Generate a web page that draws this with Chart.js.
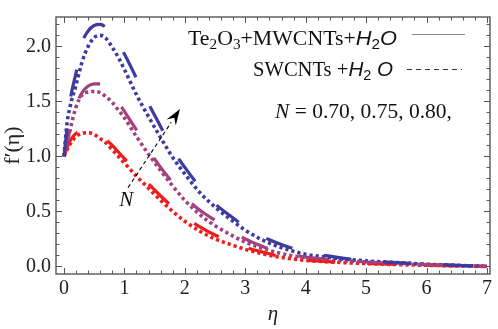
<!DOCTYPE html>
<html>
<head>
<meta charset="utf-8">
<script src="https://cdn.jsdelivr.net/npm/chart.js@4/dist/chart.umd.min.js"></script>
<style>
html,body{margin:0;padding:0;background:#fff;}
#c{display:block;}
</style>
</head>
<body>
<canvas id="c" width="498" height="329" style="width:498px;height:329px"></canvas>
<script>
// ---- data ----
const eta = [0,0.05,0.1,0.2,0.3,0.4,0.5,0.6,0.7,0.8,0.9,1.0,1.2,1.4,1.6,1.8,2.0,2.25,2.5,2.75,3.0,3.25,3.5,3.75,4.0,4.5,5.0,5.5,6.0,6.5,7.0];
// Te2O3+MWCNTs+H2O (dashed)
const mw080 = [1.0,1.25,1.5,1.76,2.03,2.14,2.19,2.2,2.17,2.11,2.03,1.93,1.71,1.48,1.27,1.06,0.9,0.72,0.57,0.46,0.36,0.28,0.22,0.17,0.13,0.085,0.05,0.035,0.02,0.01,0.0];
const mw075 = [1.0,1.13,1.24,1.46,1.58,1.64,1.66,1.66,1.62,1.56,1.49,1.41,1.24,1.06,0.9,0.76,0.63,0.51,0.42,0.33,0.25,0.19,0.14,0.11,0.085,0.06,0.04,0.028,0.016,0.008,0.0];
const mw070 = [1.0,1.08,1.14,1.21,1.225,1.22,1.2,1.18,1.15,1.1,1.04,0.98,0.86,0.75,0.64,0.54,0.45,0.36,0.285,0.225,0.175,0.135,0.1,0.075,0.058,0.04,0.028,0.018,0.011,0.005,0.0];
// SWCNTs+H2O (dotted)
const sw080 = [1.0,1.3,1.45,1.65,1.86,2.0,2.08,2.1,2.07,1.99,1.9,1.79,1.56,1.36,1.17,0.99,0.84,0.67,0.54,0.43,0.33,0.25,0.19,0.145,0.11,0.075,0.05,0.035,0.02,0.01,0.0];
const sw075 = [1.0,1.12,1.24,1.45,1.56,1.585,1.59,1.58,1.54,1.49,1.42,1.35,1.18,1.02,0.87,0.73,0.6,0.47,0.37,0.29,0.22,0.17,0.13,0.1,0.08,0.055,0.04,0.028,0.016,0.008,0.0];
const sw070 = [1.0,1.06,1.11,1.18,1.21,1.215,1.2,1.16,1.12,1.06,1.0,0.94,0.82,0.71,0.6,0.5,0.41,0.32,0.25,0.2,0.155,0.12,0.09,0.07,0.055,0.038,0.026,0.017,0.01,0.005,0.0];
const xTicks = [0,1,2,3,4,5,6,7];
const yTicks = [0,0.5,1.0,1.5,2.0];
const nValues = ['0.70','0.75','0.80'];

const RED = '#f01c1c', PUR = '#a3417e', BLU = '#3d3b9f';
const pts = arr => arr.map((v,i)=>({x:eta[i], y:v}));
const SERIF = '"Liberation Serif", "Times New Roman", serif';
const SANS = '"Liberation Sans", Arial, sans-serif';

function dashed(data,color){return {data:pts(data),borderColor:color,borderWidth:3.2,borderDash:[28,32],borderCapStyle:'butt',pointRadius:0,cubicInterpolationMode:'monotone',fill:false};}
function dotted(data,color){return {data:pts(data),borderColor:color,borderWidth:3.6,borderDash:[3.2,3],borderCapStyle:'butt',pointRadius:0,cubicInterpolationMode:'monotone',fill:false};}

// draw mixed-font text fitted horizontally between x0 and x1
function drawRich(ctx, parts, x0, x1, y){
  let w=0;
  parts.forEach(p=>{ctx.font=p[1]; w+=ctx.measureText(p[0]).width;});
  const s=(x1-x0)/w;
  ctx.save();
  ctx.translate(x0,y); ctx.scale(s,1);
  let cx=0;
  parts.forEach(p=>{ctx.font=p[1]; ctx.fillText(p[0], cx, (p[2]||0)); cx+=ctx.measureText(p[0]).width;});
  ctx.restore();
}

const framePlugin = {
  id:'frame',
  beforeDatasetsDraw(chart){
    const {ctx, chartArea:a, scales:{x,y}} = chart;
    ctx.save();
    ctx.strokeStyle='#555'; ctx.lineWidth=1.4;
    ctx.strokeRect(a.left, a.top, a.right-a.left, a.bottom-a.top);
    ctx.lineWidth=1;
    ctx.beginPath();
    for(let i=0;i<=35;i++){
      const v=i*0.2; if(v<x.min||v>x.max) continue;
      const px=Math.round(x.getPixelForValue(v))+0.5;
      const L = (i%5===0)?6:3.5;
      ctx.moveTo(px,a.bottom); ctx.lineTo(px,a.bottom-L);
      ctx.moveTo(px,a.top); ctx.lineTo(px,a.top+L);
    }
    for(let i=0;i<=23;i++){
      const v=i*0.1; if(v<y.min||v>y.max) continue;
      const py=Math.round(y.getPixelForValue(v))+0.5;
      const L = (i%5===0)?6:3.5;
      ctx.moveTo(a.left,py); ctx.lineTo(a.left+L,py);
      ctx.moveTo(a.right,py); ctx.lineTo(a.right-L,py);
    }
    ctx.stroke();
    ctx.restore();
  },
  afterDraw(chart){
    const {ctx, scales:{x,y}} = chart;
    ctx.save();
    ctx.fillStyle='#111';
    ctx.textBaseline='alphabetic';
    // legend
    drawRich(ctx, [['Te','20px '+SERIF],['2','14px '+SERIF,4],['O','20px '+SERIF],['3','14px '+SERIF,4],['+MWCNTs+','20px '+SERIF],['H','italic 20px '+SANS],['2','14px '+SANS,4],['O','italic 20px '+SANS]], 188, 397, 45);
    drawRich(ctx, [['SWCNTs +','20px '+SERIF],['H','italic 20px '+SANS],['2','14px '+SANS,4],[' O','italic 20px '+SANS]], 253, 393, 76);
    ctx.strokeStyle='#888'; ctx.lineWidth=1;
    ctx.beginPath(); ctx.moveTo(412,34.5); ctx.lineTo(465,34.5); ctx.stroke();
    ctx.strokeStyle='#333'; ctx.setLineDash([5,4]);
    ctx.beginPath(); ctx.moveTo(407,69.5); ctx.lineTo(462,69.5); ctx.stroke();
    ctx.setLineDash([]);
    drawRich(ctx, [['N','italic 20px '+SERIF],[' = '+nValues.join(', ')+',','20px '+SERIF]], 275, 452, 118);
    // arrow
    const x0=x.getPixelForValue(1.06), y0=y.getPixelForValue(0.716);
    const x1=x.getPixelForValue(1.92), y1=y.getPixelForValue(1.43);
    const ang=Math.atan2(y1-y0,x1-x0);
    const hl=16, hw=5.5;
    const bx=x1-hl*Math.cos(ang), by=y1-hl*Math.sin(ang);
    ctx.strokeStyle='#000'; ctx.lineWidth=1.1; ctx.setLineDash([4,3]);
    ctx.beginPath(); ctx.moveTo(x0,y0); ctx.lineTo(bx,by); ctx.stroke();
    ctx.setLineDash([]);
    ctx.fillStyle='#000';
    ctx.beginPath();
    ctx.moveTo(x1,y1);
    ctx.lineTo(bx+hw*Math.sin(ang), by-hw*Math.cos(ang));
    ctx.lineTo(bx+0.35*hl*Math.cos(ang), by+0.35*hl*Math.sin(ang));
    ctx.lineTo(bx-hw*Math.sin(ang), by+hw*Math.cos(ang));
    ctx.closePath(); ctx.fill();
    ctx.fillStyle='#111';
    ctx.font='italic 21px '+SERIF; ctx.textAlign='center'; ctx.textBaseline='middle';
    ctx.fillText('N', x.getPixelForValue(1.03), y.getPixelForValue(0.595));
    ctx.restore();
  }
};

new Chart(document.getElementById('c').getContext('2d'), {
  type:'line',
  data:{datasets:[
    dashed(mw080,BLU), dashed(mw075,PUR), dashed(mw070,RED),
    dotted(sw080,BLU), dotted(sw075,PUR), dotted(sw070,RED)
  ]},
  options:{
    responsive:false, animation:false,
    layout:{padding:{top:3,right:8,left:0,bottom:0}},
    plugins:{legend:{display:false},tooltip:{enabled:false}},
    scales:{
      x:{type:'linear',min:-0.132,max:7.05,
        afterFit(s){s.height=55;},
        afterBuildTicks(s){s.ticks=xTicks.map(v=>({value:v}));},
        grid:{display:false,drawTicks:false}, border:{display:false},
        ticks:{color:'#222',padding:3,font:{family:SERIF,size:20},callback:v=>String(v),maxRotation:0,autoSkip:false},
        title:{display:true,text:'η',color:'#222',font:{family:SERIF,size:21,style:'italic'},padding:{top:0,bottom:2}}
      },
      y:{type:'linear',min:-0.069,max:2.267,
        afterFit(s){s.width=56;},
        afterBuildTicks(s){s.ticks=yTicks.map(v=>({value:v}));},
        grid:{display:false,drawTicks:false}, border:{display:false},
        ticks:{color:'#222',padding:5,font:{family:SERIF,size:20},callback:v=>v.toFixed(1),autoSkip:false},
        title:{display:true,text:'f′(η)',color:'#222',font:{family:SERIF,size:22},padding:{top:0,bottom:0}}
      }
    }
  },
  plugins:[framePlugin]
});
</script>
</body>
</html>
